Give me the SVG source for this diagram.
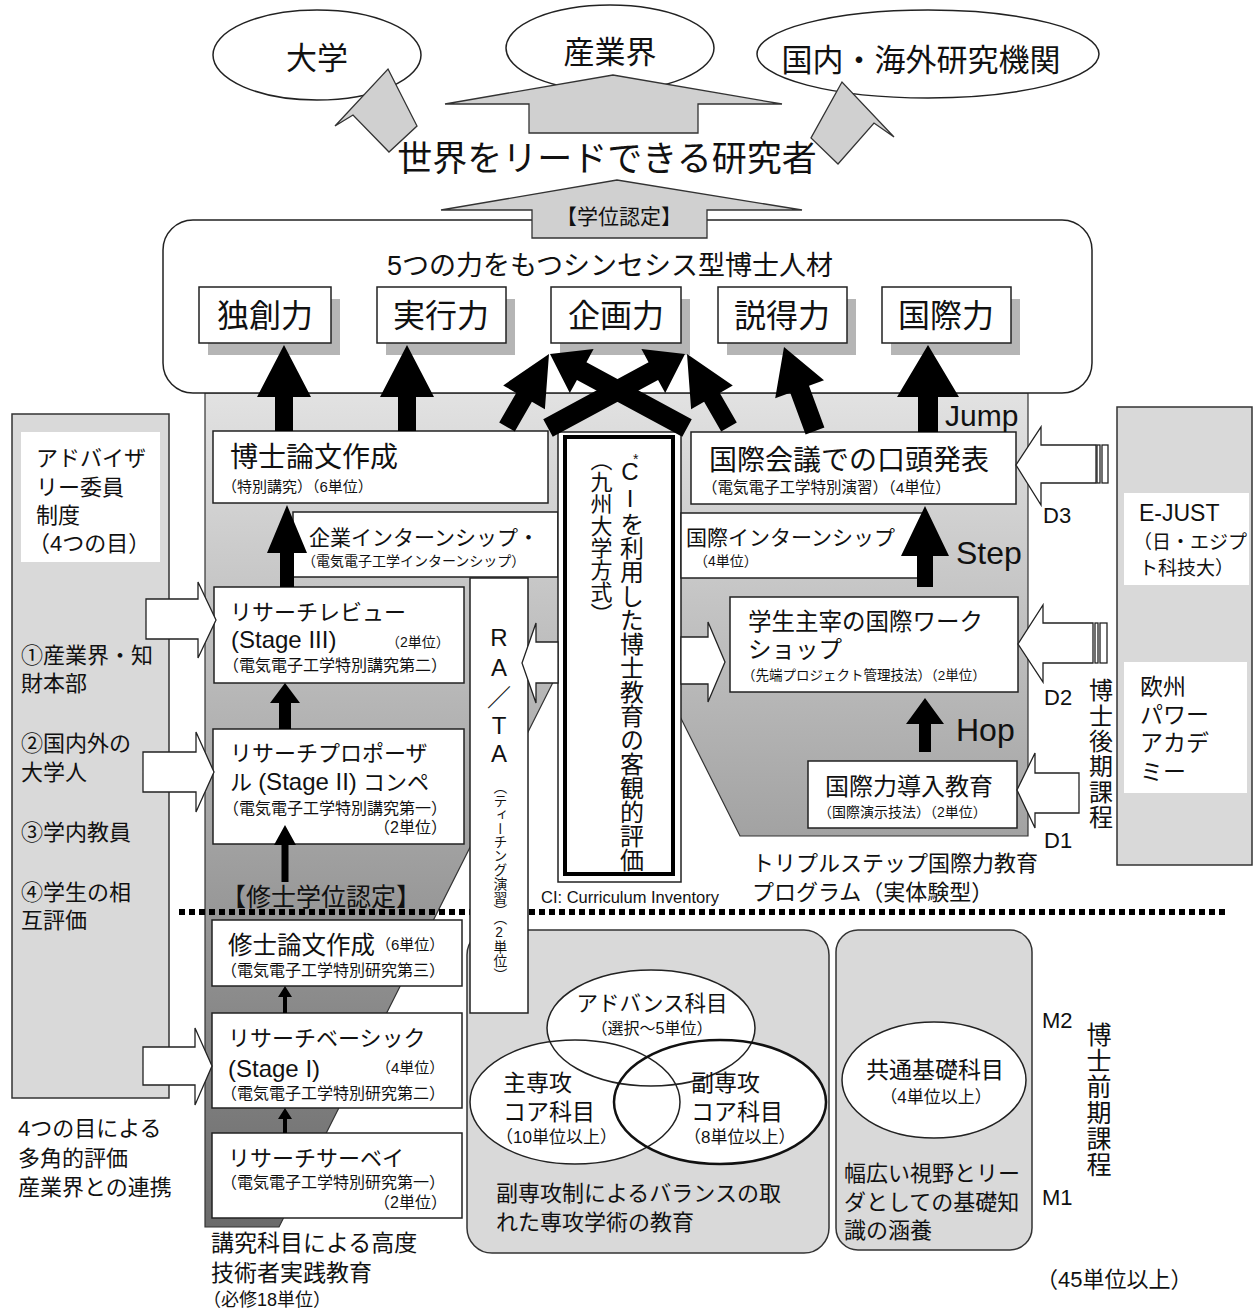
<svg xmlns="http://www.w3.org/2000/svg" width="1257" height="1310" viewBox="0 0 1257 1310">
<style>
text { font-family: "Liberation Sans", "Noto Sans CJK JP", sans-serif; fill: #111; }
.box { fill: #fff; stroke: #222; stroke-width: 1.5; }
.gbox { fill: #d9d9d9; stroke: #333; stroke-width: 1.5; }
.ell { fill: #fff; stroke: #222; stroke-width: 1.5; }
.hollow { fill: #fff; stroke: #222; stroke-width: 1.3; }
.blk { fill: #000; }
.garrow { fill: #d0d0d0; stroke: #333; stroke-width: 1.3; }
.shadow { fill: #b5b5b5; }
.vt { writing-mode: vertical-rl; text-orientation: upright; }
.mid { text-anchor: middle; }
.end { text-anchor: end; }
</style>
<defs>
<linearGradient id="bg" gradientUnits="userSpaceOnUse" x1="0" y1="393" x2="0" y2="1227">
<stop offset="0" stop-color="#e2e2e2"/>
<stop offset="1" stop-color="#6a6a6a"/>
</linearGradient>
</defs>
<rect width="1257" height="1310" fill="#fff"/>

<g id="background-band">
<polygon points="205,393 1028,393 1028,836 740,836 608,573 279,1227 205,1227" fill="url(#bg)" stroke="#333" stroke-width="1.2"/>
<line x1="179" y1="912" x2="1228" y2="912" stroke="#000" stroke-width="6" stroke-dasharray="6,4"/>
</g>

<g id="n-univ"><ellipse class="ell" cx="317" cy="55" rx="104" ry="45"/><text class="mid" x="317" y="69" font-size="31">大学</text></g>
<g id="n-industry"><ellipse class="ell" cx="610" cy="48" rx="104" ry="43"/><text class="mid" x="610" y="63" font-size="31">産業界</text></g>
<g id="n-research"><ellipse class="ell" cx="928" cy="54" rx="171" ry="44"/><text class="mid" x="921" y="71" font-size="31">国内・海外研究機関</text></g>

<g id="n-outcome">
<rect x="163" y="220" width="929" height="173" rx="30" class="box"/>
<text class="mid" x="610" y="275" font-size="27">5つの力をもつシンセシス型博士人材</text>
</g>
<g id="n-originality"><rect class="shadow" x="208" y="299" width="132" height="56"/><rect class="box" x="199" y="287" width="132" height="56"/><text class="mid" x="265" y="327" font-size="32">独創力</text></g>
<g id="n-execution"><rect class="shadow" x="386" y="299" width="129" height="56"/><rect class="box" x="377" y="287" width="129" height="56"/><text class="mid" x="441" y="327" font-size="32">実行力</text></g>
<g id="n-planning"><rect class="shadow" x="560" y="299" width="130" height="56"/><rect class="box" x="551" y="287" width="130" height="56"/><text class="mid" x="616" y="327" font-size="32">企画力</text></g>
<g id="n-persuasion"><rect class="shadow" x="727" y="299" width="129" height="56"/><rect class="box" x="718" y="287" width="129" height="56"/><text class="mid" x="782" y="327" font-size="32">説得力</text></g>
<g id="n-international"><rect class="shadow" x="891" y="299" width="129" height="56"/><rect class="box" x="882" y="287" width="129" height="56"/><text class="mid" x="946" y="327" font-size="32">国際力</text></g>

<g id="n-advisory">
<rect class="gbox" x="12" y="414" width="157" height="684"/>
<rect x="21" y="432" width="139" height="130" fill="#fff"/>
<text font-size="22"><tspan x="36" y="466">アドバイザ</tspan><tspan x="36" y="495">リー委員</tspan><tspan x="36" y="523">制度</tspan><tspan x="28" y="551">（4つの目）</tspan></text>
<text font-size="22"><tspan x="21" y="663">①産業界・知</tspan><tspan x="21" y="691">財本部</tspan><tspan x="21" y="751">②国内外の</tspan><tspan x="21" y="780">大学人</tspan><tspan x="21" y="840">③学内教員</tspan><tspan x="21" y="900">④学生の相</tspan><tspan x="21" y="928">互評価</tspan></text>
</g>
<g id="n-multi-eval"><text font-size="22"><tspan x="18" y="1136">4つの目による</tspan><tspan x="18" y="1166">多角的評価</tspan><tspan x="18" y="1195">産業界との連携</tspan></text></g>

<g id="n-ejust-col">
<rect class="gbox" x="1117" y="407" width="135" height="458"/>
<rect x="1124" y="493" width="125" height="92" fill="#fff"/>
<text x="1139" y="521" font-size="23">E-JUST</text>
<text font-size="19"><tspan x="1133" y="549">（日・エジプ</tspan><tspan x="1139" y="575">ト科技大）</tspan></text>
<rect x="1124" y="662" width="123" height="131" fill="#fff"/>
<text font-size="23"><tspan x="1140" y="695">欧州</tspan><tspan x="1140" y="723">パワー</tspan><tspan x="1140" y="751">アカデ</tspan><tspan x="1140" y="780">ミー</tspan></text>
</g>

<g id="n-doc-thesis"><rect class="box" x="213" y="431" width="335" height="72"/><text x="230" y="467" font-size="28">博士論文作成</text><text x="222" y="492" font-size="15">（特別講究）（6単位）</text></g>
<g id="n-corp-intern"><rect class="box" x="293" y="512" width="265" height="65"/><text x="309" y="545" font-size="21">企業インターンシップ・</text><text x="302" y="566" font-size="14">（電気電子工学インターンシップ）</text></g>
<g id="n-review"><rect class="box" x="214" y="587" width="250" height="96"/><text x="230" y="620" font-size="22">リサーチレビュー</text><text x="231" y="648" font-size="24">(Stage III)</text><text x="386" y="647" font-size="14">（2単位）</text><text x="223" y="671" font-size="16">（電気電子工学特別講究第二）</text></g>
<g id="n-proposal"><rect class="box" x="213" y="729" width="251" height="115"/><text x="230" y="761" font-size="22">リサーチプロポーザ</text><text x="230" y="790" font-size="22">ル <tspan font-size="24">(Stage II)</tspan> コンペ</text><text x="223" y="814" font-size="16">（電気電子工学特別講究第一）</text><text class="end" x="447" y="833" font-size="16">（2単位）</text></g>
<g id="n-ci">
<rect x="558" y="432" width="123" height="450" fill="#fff" stroke="#222" stroke-width="1.5"/>
<rect x="565" y="437" width="108" height="437" fill="#fff" stroke="#000" stroke-width="4"/>
<text class="vt" x="599" y="449" font-size="22">（九州大学方式）</text>
<text class="vt" x="630" y="458" font-size="24">CIを利用した博士教育の客観的評価</text>
<text x="633" y="464" font-size="14">*</text>
</g>
<g id="n-conf"><rect class="box" x="691" y="432" width="325" height="72"/><text x="709" y="470" font-size="28">国際会議での口頭発表</text><text x="702" y="493" font-size="15.5">（電気電子工学特別演習）（4単位）</text></g>
<g id="n-intl-intern"><rect class="box" x="681" y="513" width="245" height="65"/><text x="686" y="545" font-size="21">国際インターンシップ</text><text x="694" y="566" font-size="14">（4単位）</text></g>
<g id="n-workshop"><rect class="box" x="730" y="597" width="288" height="95"/><text x="748" y="630" font-size="23.5">学生主宰の国際ワーク</text><text x="748" y="658" font-size="23.5">ショップ</text><text x="742" y="680" font-size="13.5">（先端プロジェクト管理技法）（2単位）</text></g>
<g id="n-intro"><rect class="box" x="808" y="761" width="209" height="67"/><text x="825" y="795" font-size="24">国際力導入教育</text><text x="818" y="817" font-size="14">（国際演示技法）（2単位）</text></g>
<g id="n-doc-course">
<text x="1043" y="523" font-size="22">D3</text><text x="1044" y="705" font-size="22">D2</text><text x="1044" y="848" font-size="22">D1</text>
<text class="vt" x="1099" y="678" font-size="24" letter-spacing="1.4">博士後期課程</text>
</g>
<g id="n-triple"><text font-size="22"><tspan x="752" y="871">トリプルステップ国際力教育</tspan><tspan x="752" y="900">プログラム（実体験型）</tspan></text></g>
<g id="n-ci-note"><text x="541" y="903" font-size="16.5">CI: Curriculum Inventory</text></g>
<g id="n-master-degree"><text class="mid" x="321" y="906" font-size="25">【修士学位認定】</text></g>

<g id="n-master-thesis"><rect class="box" x="212" y="920" width="250" height="66"/><text x="228" y="954" font-size="24.5">修士論文作成</text><text x="376" y="950" font-size="15">（6単位）</text><text x="221" y="976" font-size="16">（電気電子工学特別研究第三）</text></g>
<g id="n-basic"><rect class="box" x="212" y="1013" width="250" height="95"/><text x="228" y="1046" font-size="22">リサーチベーシック</text><text x="228" y="1077" font-size="24">(Stage I)</text><text x="376" y="1073" font-size="15">（4単位）</text><text x="221" y="1099" font-size="16">（電気電子工学特別研究第二）</text></g>
<g id="n-survey"><rect class="box" x="212" y="1133" width="250" height="85"/><text x="228" y="1166" font-size="22">リサーチサーベイ</text><text x="221" y="1188" font-size="16">（電気電子工学特別研究第一）</text><text class="end" x="447" y="1208" font-size="16">（2単位）</text></g>
<g id="n-kouky"><text font-size="23"><tspan x="211" y="1251">講究科目による高度</tspan><tspan x="211" y="1281">技術者実践教育</tspan></text><text x="203" y="1306" font-size="18">（必修18単位）</text></g>

<g id="n-major">
<rect class="gbox" x="467" y="930" width="362" height="323" rx="25"/>
<ellipse cx="651" cy="1028" rx="104" ry="58" fill="#fff"/>
<ellipse cx="575" cy="1102" rx="105" ry="62" fill="#fff"/>
<ellipse cx="720" cy="1102" rx="106" ry="62" fill="#fff"/>
<ellipse cx="651" cy="1028" rx="104" ry="58" fill="none" stroke="#222" stroke-width="1.5"/>
<ellipse cx="575" cy="1102" rx="105" ry="62" fill="none" stroke="#222" stroke-width="1.5"/>
<ellipse cx="720" cy="1102" rx="106" ry="62" fill="none" stroke="#111" stroke-width="2.5"/>
<text class="mid" x="652" y="1011" font-size="21.5">アドバンス科目</text>
<text class="mid" x="652" y="1034" font-size="16">（選択～5単位）</text>
<text font-size="23"><tspan x="503" y="1091">主専攻</tspan><tspan x="503" y="1120">コア科目</tspan></text>
<text x="496" y="1143" font-size="17">（10単位以上）</text>
<text font-size="23"><tspan x="691" y="1091">副専攻</tspan><tspan x="691" y="1120">コア科目</tspan></text>
<text x="684" y="1143" font-size="17">（8単位以上）</text>
<text font-size="22"><tspan x="496" y="1201">副専攻制によるバランスの取</tspan><tspan x="496" y="1230">れた専攻学術の教育</tspan></text>
</g>
<g id="n-rata">
<rect class="box" x="470" y="578" width="58" height="435"/>
<text class="mid" font-size="24"><tspan x="499" y="646">R</tspan><tspan x="499" y="676">A</tspan><tspan x="499" y="706">／</tspan><tspan x="499" y="734">T</tspan><tspan x="499" y="762">A</tspan></text>
<text class="vt" x="499" y="780" font-size="13.8">（ティーチング演習）（2単位）</text>
</g>
<g id="n-common">
<rect class="gbox" x="836" y="930" width="196" height="320" rx="22"/>
<ellipse class="ell" cx="934" cy="1080" rx="92" ry="58"/>
<text class="mid" x="935" y="1078" font-size="23">共通基礎科目</text>
<text class="mid" x="936" y="1103" font-size="17">（4単位以上）</text>
<text font-size="22"><tspan x="844" y="1181">幅広い視野とリー</tspan><tspan x="844" y="1210">ダとしての基礎知</tspan><tspan x="844" y="1238">識の涵養</tspan></text>
</g>
<g id="n-master-course">
<text x="1042" y="1028" font-size="22">M2</text><text x="1042" y="1205" font-size="22">M1</text>
<text class="vt" x="1097" y="1022" font-size="25" letter-spacing="1">博士前期課程</text>
<text x="1036" y="1287" font-size="22">（45単位以上）</text>
</g>

<g id="connectors">
<polygon class="garrow" points="388,69 417,126 389,152 353,115 335,126"/>
<polygon class="garrow" points="529,133 529,104 445,104 613,75 782,104 698,104 698,133"/>
<polygon class="garrow" points="842,82 811,138 838,164 874,123 894,137"/>
<polygon class="garrow" points="532,238 532,210 441,210 617,180 802,210 707,210 707,238"/>

<polygon class="blk" points="275,431 275,397 257,397 284,345 311,397 293,397 293,431"/>
<polygon class="blk" points="398,431 398,397 380,397 407,345 434,397 416,397 416,431"/>
<polygon class="blk" points="824.4,427.5 809,385.7 824,380.2 784,347 775.2,398.2 790.2,392.7 805.6,434.5"/>
<polygon class="blk" points="918,432 918,397 897,397 928,345 959,397 938,397 938,432"/>
<polygon class="blk" points="514.8,431.5 531.9,401.8 544.9,409.3 549,354 503.2,385.4 516.2,392.9 499.2,422.5"/>
<polygon class="blk" points="552.75,436.8 658.05,379.9 665.2,393.1 685,354 641.4,349.1 648.55,362.3 543.25,419.2"/>
<polygon class="blk" points="691.75,419.2 586.45,362.3 593.6,349.1 550,354 569.8,393.1 576.95,379.9 682.25,436.8"/>
<polygon class="blk" points="736.8,422.5 719.8,392.9 732.8,385.4 687,354 691.1,409.3 704.1,401.8 721.2,431.5"/>

<polygon class="blk" points="917,587 917,556 901,556 925,506 949,556 933,556 933,587"/>
<polygon class="blk" points="919,752 919,724 906,724 925,698 944,724 931,724 931,752"/>

<polygon class="blk" points="280,587 280,553 267,553 287,505 307,553 294,553 294,587"/>
<polygon class="blk" points="279,729 279,703 270,703 285,683 300,703 291,703 291,729"/>
<polygon class="blk" points="281.5,882 281.5,845 274,845 285,825 296,845 288.5,845 288.5,882"/>
<polygon class="blk" points="283,1013 283,997 278,997 285,986 292,997 287,997 287,1013"/>
<polygon class="blk" points="283,1133 283,1119 278,1119 285,1108 292,1119 287,1119 287,1133"/>

<polygon class="hollow" points="146,599 198,599 198,582 216,620 198,658 198,639 146,639"/>
<polygon class="hollow" points="143,752 196,752 196,732 214,772 196,812 196,792 143,792"/>
<polygon class="hollow" points="143,1047 195,1047 195,1028 212,1066 195,1105 195,1085 143,1085"/>

<polygon class="hollow" points="1096,445 1041,445 1041,427 1016,465 1041,505 1041,483 1096,483"/>
<rect class="hollow" x="1097" y="445" width="3" height="38"/><rect class="hollow" x="1102" y="445" width="6" height="38"/>
<polygon class="hollow" points="1093,623 1043,623 1043,605 1018,644 1043,682 1043,663 1093,663"/>
<rect class="hollow" x="1095" y="623" width="3" height="40"/><rect class="hollow" x="1100" y="623" width="7" height="40"/>
<polygon class="hollow" points="1079,773 1035,773 1035,753 1017,790 1035,828 1035,813 1079,813"/>

<polygon class="hollow" points="558,642 536,642 536,623 522,663 536,703 536,683 558,683"/>
<polygon class="hollow" points="681,637 708,637 708,622 725,662 708,702 708,684 681,684"/>
</g>

<g id="connector-labels">
<text class="mid" x="607" y="171" font-size="35">世界をリードできる研究者</text>
<text class="mid" x="619" y="224" font-size="21">【学位認定】</text>
<text x="945" y="426" font-size="30">Jump</text>
<text x="956" y="564" font-size="32">Step</text>
<text x="956" y="741" font-size="32">Hop</text>
</g>
</svg>
